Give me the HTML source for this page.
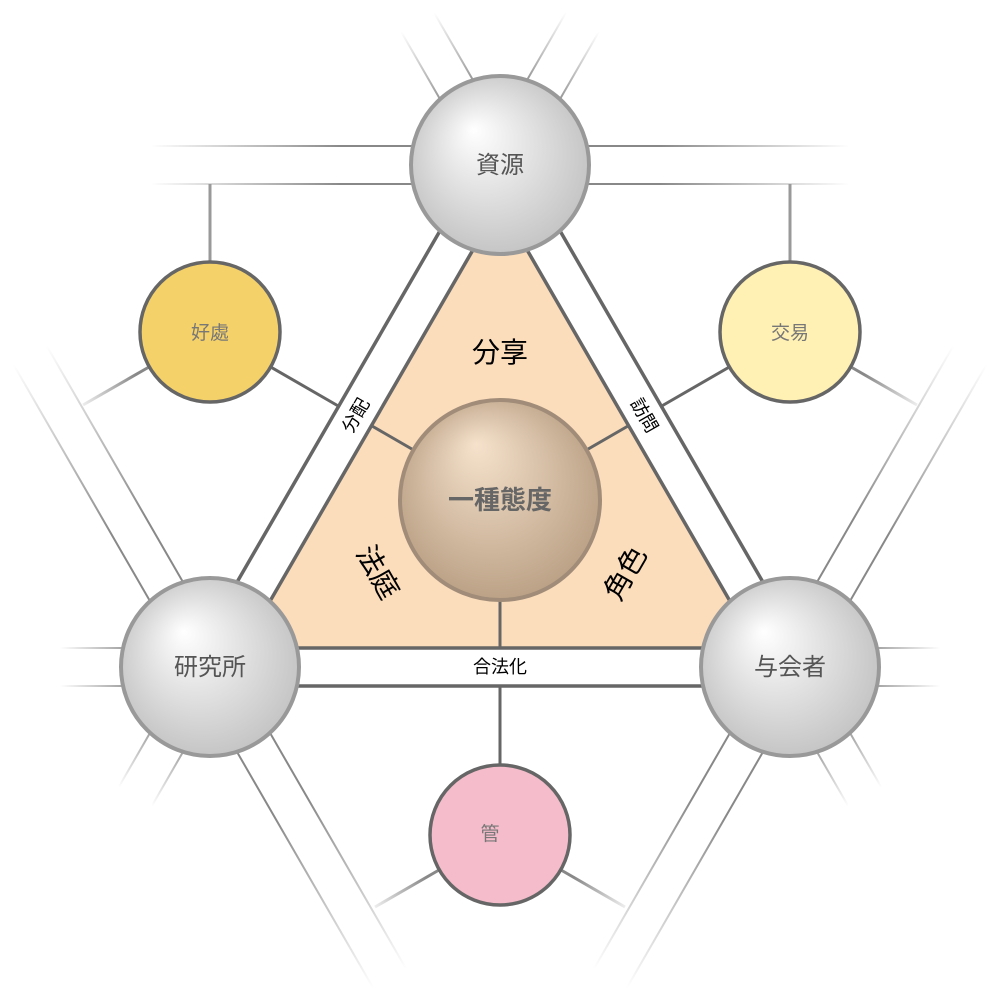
<!DOCTYPE html>
<html><head><meta charset="utf-8"><style>
html,body{margin:0;padding:0;background:#fff;}
svg{display:block;}
text{font-family:"Liberation Sans","Noto Sans CJK JP",sans-serif;}
</style></head><body>
<svg width="1000" height="1000" viewBox="0 0 1000 1000" xmlns="http://www.w3.org/2000/svg">
<defs>
<radialGradient id="gs" cx="0.5" cy="0.5" r="0.6" fx="0.35" fy="0.3">
<stop offset="0" stop-color="#ffffff"/><stop offset="1" stop-color="#bdbdbd"/></radialGradient>
<radialGradient id="gc" cx="0.5" cy="0.5" r="0.6" fx="0.38" fy="0.22">
<stop offset="0" stop-color="#f6e2cc"/><stop offset="1" stop-color="#b49a7e"/></radialGradient>
</defs>
<g id="ext" stroke-width="2" fill="none"></g>
<polygon points="500,204 244,648 756,648" fill="#fbdcbb"/>
<g stroke="#666" stroke-width="3.5">
<line x1="244" y1="648" x2="756" y2="648"/>
<line x1="178" y1="686" x2="822" y2="686"/>
<line x1="226.5" y1="676.5" x2="516.5" y2="174.5"/>
<line x1="193.5" y1="657.5" x2="483.5" y2="155.5"/>
<line x1="773.5" y1="676.5" x2="483.5" y2="174.5"/>
<line x1="806.5" y1="657.5" x2="516.5" y2="155.5"/>
</g>
<g stroke="#888" stroke-width="2">
<line x1="500" y1="146" x2="660" y2="146"/><line x1="500" y1="184" x2="660" y2="184"/>
<line x1="500" y1="146" x2="340" y2="146"/><line x1="500" y1="184" x2="340" y2="184"/>
</g>
<g stroke="#666" stroke-width="3">
<line x1="500" y1="500" x2="372" y2="426"/>
<line x1="500" y1="500" x2="628" y2="426"/>
<line x1="500" y1="500" x2="500" y2="648"/>
<line x1="500" y1="686" x2="500" y2="765"/>
<line x1="210" y1="332" x2="340" y2="407"/>
<line x1="790" y1="332" x2="660" y2="407"/>
</g>
<g stroke="#999" stroke-width="3">
<line x1="210" y1="184" x2="210" y2="262"/>
<line x1="790" y1="184" x2="790" y2="262"/>
</g>
<rect x="334" y="404" width="44" height="22" fill="#fff" transform="rotate(-60 356 415)"/>
<rect x="622" y="404" width="44" height="22" fill="#fff" transform="rotate(60 644 415)"/>
<text x="355" y="422" font-size="18" text-anchor="middle" transform="rotate(-60 355 415)">分配</text>
<text x="645" y="422" font-size="18" text-anchor="middle" transform="rotate(60 645 415)">訪問</text>
<text x="500" y="673" font-size="18" text-anchor="middle">合法化</text>
<text x="500" y="362" font-size="28" text-anchor="middle">分享</text>
<text x="378" y="582" font-size="28" text-anchor="middle" transform="rotate(60 378 572)">法庭</text>
<text x="625" y="583" font-size="28" text-anchor="middle" transform="rotate(-60 625 573)">角色</text>
<circle cx="500" cy="500" r="100" fill="url(#gc)" stroke="#a08c78" stroke-width="4"/>
<text x="500" y="509" font-size="26" font-weight="bold" fill="#666" text-anchor="middle">一種態度</text>
<g stroke="#999" stroke-width="4" fill="url(#gs)">
<circle cx="500" cy="165" r="89"/><circle cx="210" cy="667" r="89"/><circle cx="790" cy="667" r="89"/>
</g>
<g font-size="24" fill="#555" text-anchor="middle">
<text x="500" y="173">資源</text><text x="210" y="675">研究所</text><text x="790" y="675">与会者</text>
</g>
<g stroke="#666" stroke-width="3.5">
<circle cx="210" cy="332" r="70" fill="#f5d16a"/>
<circle cx="790" cy="332" r="70" fill="#fff0b3"/>
<circle cx="500" cy="835" r="70" fill="#f5bccb"/>
</g>
<g font-size="19" fill="#777" text-anchor="middle">
<text x="210" y="339">好處</text><text x="790" y="339">交易</text><text x="490" y="840">管</text>
</g>
<script>
var L=[
[500,146,150,146],[500,184,150,184],[500,146,850,146],[500,184,850,184],
[210,648,60,648],[210,686,60,686],[790,648,940,648],[790,686,940,686],
[516.5,174.5,599,31.5],[483.5,155.5,566,12.5],[226.5,676.5,151.5,806.5],[193.5,657.5,118.5,787.5],
[483.5,174.5,401,31.5],[516.5,155.5,434,12.5],[773.5,676.5,848.5,806.5],[806.5,657.5,881.5,787.5],
[226.5,657.5,46.5,345.5],[226.5,657.5,406.5,969.5],[193.5,676.5,13.5,364.5],[193.5,676.5,373.5,988.5],
[773.5,657.5,953.5,345.5],[773.5,657.5,593.5,969.5],[806.5,676.5,986.5,364.5],[806.5,676.5,626.5,988.5],
[149,367,83,405],[851,367,917,405],[439,870,375,907],[561,870,625,907]];
var ns="http://www.w3.org/2000/svg",svg=document.querySelector('svg'),defs=svg.querySelector('defs'),g=document.getElementById('ext');
L.forEach(function(a,i){
 var gr=document.createElementNS(ns,'linearGradient');gr.setAttribute('id','f'+i);gr.setAttribute('gradientUnits','userSpaceOnUse');
 gr.setAttribute('x1',a[0]);gr.setAttribute('y1',a[1]);gr.setAttribute('x2',a[2]);gr.setAttribute('y2',a[3]);
 var s=i>=24?[[0,1],[0.2,1],[1,0.15]]:[[0,1],[0.45,1],[1,0]];
 s.forEach(function(t){var st=document.createElementNS(ns,'stop');st.setAttribute('offset',t[0]);st.setAttribute('stop-color','#888');st.setAttribute('stop-opacity',t[1]);gr.appendChild(st);});
 defs.appendChild(gr);
 var l=document.createElementNS(ns,'line');l.setAttribute('x1',a[0]);l.setAttribute('y1',a[1]);l.setAttribute('x2',a[2]);l.setAttribute('y2',a[3]);
 l.setAttribute('stroke','url(#f'+i+')');l.setAttribute('stroke-width',i>=24?3:2);g.appendChild(l);
});
</script>
</svg>
</body></html>
